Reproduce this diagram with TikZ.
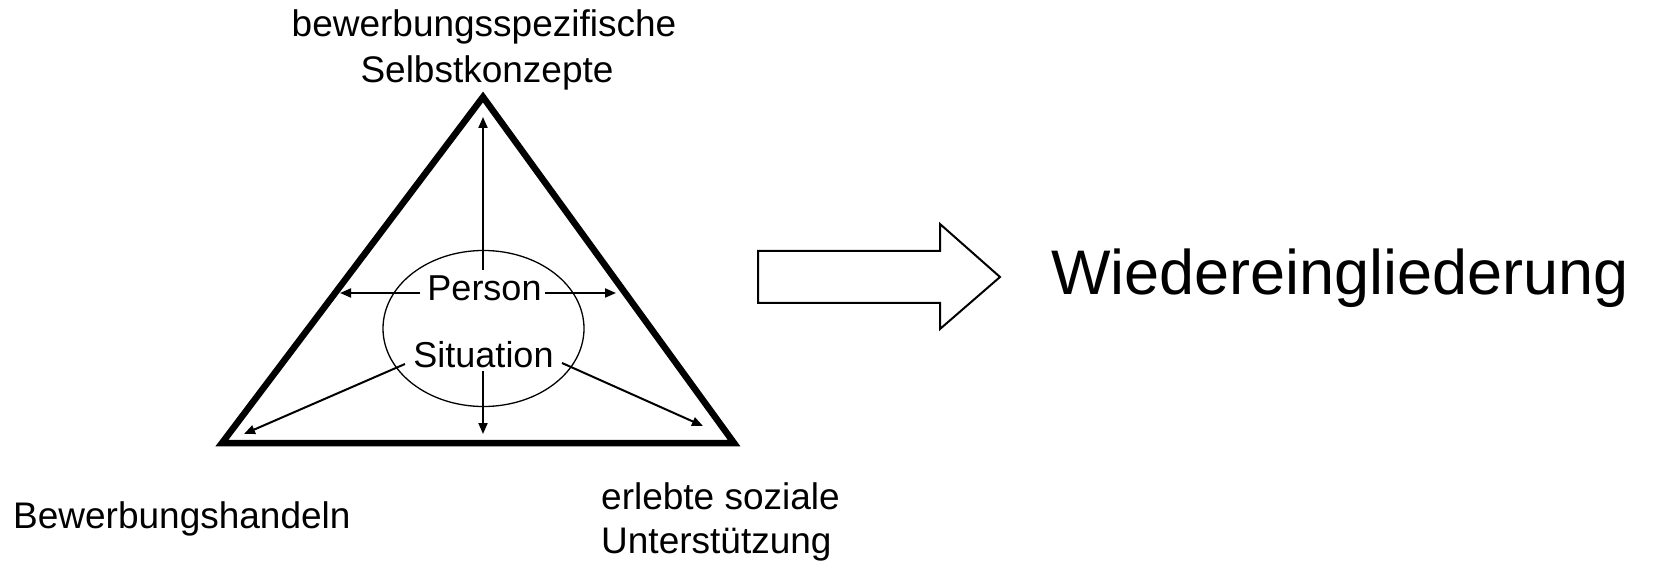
\documentclass[tikz,border=0pt]{standalone}
\usepackage{fontspec}
\setmainfont{Liberation Sans}
\usetikzlibrary{arrows.meta}
\begin{document}
\begin{tikzpicture}[x=1pt,y=-1pt,
  lbl/.style={inner sep=0pt,anchor=base,font=\fontsize{36}{43}\selectfont},
  olbl/.style={inner sep=0pt,anchor=base,font=\fontsize{37}{44}\selectfont},
  lblw/.style={inner sep=0pt,anchor=base west,font=\fontsize{37}{44}\selectfont},
  conn/.style={line width=2pt,-{Triangle[length=11pt,width=9pt]}},
  tri/.style={line width=6.5pt,line join=miter},
  blockarrow/.style={line width=2pt,line join=miter,fill=white}]
\useasboundingbox (0,0) rectangle (1655,561);
\fill[white] (0,0) rectangle (1655,561);
% triangle
\coordinate (A) at (483,97);
\coordinate (BL) at (222,443);
\coordinate (BR) at (734,443);
\draw[tri] (A) -- (BL) -- (BR) -- cycle;
% ellipse
\draw[line width=1.3pt] (483.5,328.5) ellipse [x radius=100.5, y radius=78];
% texts in ellipse
\node[lbl] (person) at (484.5,301) {Person};
\node[lbl] (situation) at (483.5,367) {Situation};
% arrow endpoints
\coordinate (upS) at (483,270);
\coordinate (upT) at (483,117);
\coordinate (dnS) at (483,371);
\coordinate (dnT) at (483,434);
\coordinate (lS) at (420,293);
\coordinate (lT) at (340,293);
\coordinate (rS) at (545,293);
\coordinate (rT) at (616,293);
\coordinate (dlS) at (405,364);
\coordinate (dlT) at (244,434);
\coordinate (drS) at (562,363);
\coordinate (drT) at (703,426);
\draw[conn] (upS) -- (upT);
\draw[conn] (dnS) -- (dnT);
\draw[conn] (lS) -- (lT);
\draw[conn] (rS) -- (rT);
\draw[conn] (dlS) -- (dlT);
\draw[conn] (drS) -- (drT);
% outer labels
\node[olbl] (top1) at (484,37) {bewerbungsspezifische};
\node[olbl] (top2) at (487,83) {Selbstkonzepte};
\node[lblw] (bl) at (13,528) {Bewerbungshandeln};
\node[lblw] (br1) at (601,509) {erlebte soziale};
\node[lblw] (br2) at (601,553) {Unterstützung};
% block arrow
\draw[blockarrow] (758,251) -- (940,251) -- (940,224) -- (1000,277) -- (940,329) -- (940,303) -- (758,303) -- cycle;
\node[inner sep=0pt,anchor=base west,font=\fontsize{63}{75}\selectfont] (goal) at (1051,295) {Wiedereingliederung};
\end{tikzpicture}
\end{document}
